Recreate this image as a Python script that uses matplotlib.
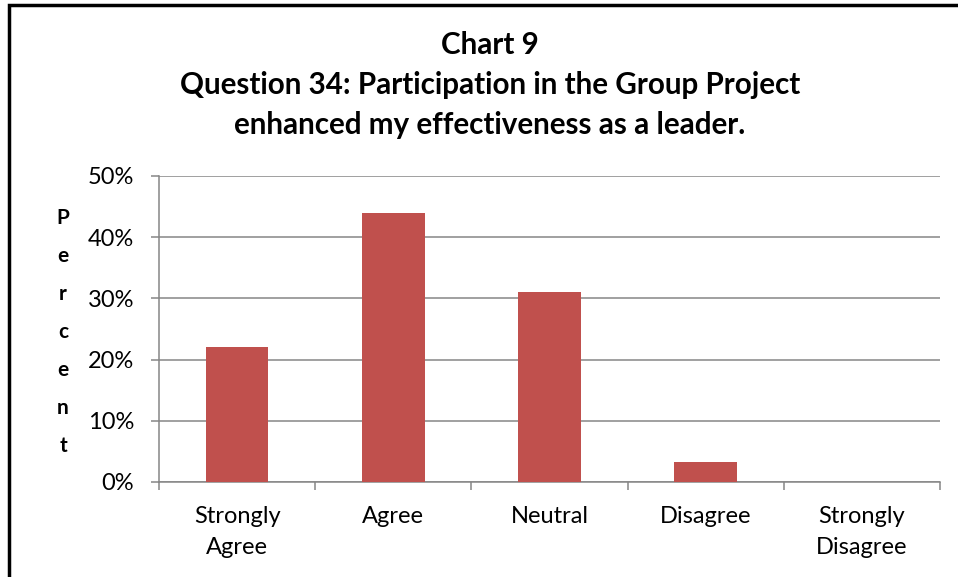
import matplotlib.pyplot as plt
from matplotlib.patches import Rectangle
from matplotlib.ticker import FuncFormatter

plt.rcParams['font.family'] = ['Lato', 'DejaVu Sans']

# data
categories = ['Strongly\nAgree', 'Agree', 'Neutral', 'Disagree', 'Strongly\nDisagree']
percents = [22, 44, 31, 3.2, 0]
y_ticks = [0, 10, 20, 30, 40, 50]

title = 'Chart 9\nQuestion 34: Participation in the Group Project\nenhanced my effectiveness as a leader.'

fig = plt.figure(figsize=(9.58, 5.77), dpi=100)
ax = fig.add_axes([159/958, 1 - 482/577, 781/958, 306/577])

x = list(range(len(categories)))
ax.bar(x, percents, width=0.4, color='#C0504D', zorder=3)

ax.set_xlim(-0.5, len(categories) - 0.5)
ax.set_ylim(0, 50)
ax.set_yticks(y_ticks)
ax.yaxis.set_major_formatter(FuncFormatter(lambda v, p: '%d%%' % v))
ax.grid(axis='y', color='#868686', linewidth=1.1, zorder=0)

# labels at the centres, tick marks at the category borders
ax.set_xticks(x)
ax.set_xticklabels(categories, fontsize=17, linespacing=1.6)
ax.set_xticks([i - 0.5 for i in range(len(categories) + 1)], minor=True)
ax.tick_params(axis='x', which='major', length=0, pad=17)
ax.tick_params(axis='x', which='minor', length=6, width=1.1, color='#868686')
ax.tick_params(axis='y', length=6, width=1.1, color='#868686', labelsize=17, pad=12)

for s in ['top', 'right']:
    ax.spines[s].set_visible(False)
for s in ['left', 'bottom']:
    ax.spines[s].set_color('#868686')
    ax.spines[s].set_linewidth(1.1)

fig.text(490/958, 1 - 85/577, title, ha='center', va='center',
         fontsize=21.3, fontweight='bold', linespacing=1.52)

fig.text(63/958, 1 - 332/577, '\n'.join('Percent'), ha='center', va='center',
         fontsize=15, fontweight='bold', linespacing=2.12)

# chart frame (runs off the right and bottom edge in the source)
fig.patches.append(Rectangle((9/958, -0.05), 1.0, 1 - 5/577 + 0.05,
                             transform=fig.transFigure, fill=False,
                             edgecolor='black', linewidth=2.5))

plt.savefig('out.png', dpi=100)
